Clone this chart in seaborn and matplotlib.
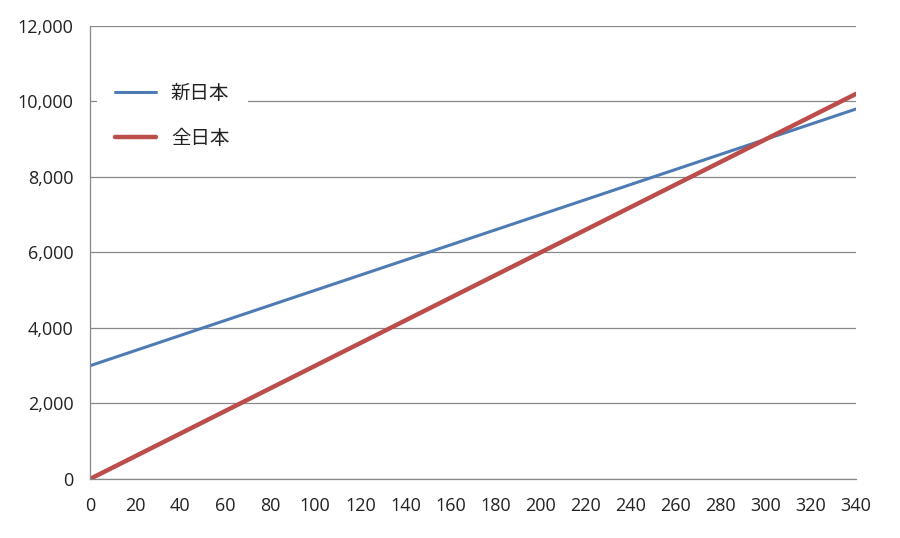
import matplotlib
matplotlib.use("Agg")
import matplotlib.pyplot as plt
import seaborn as sns
import pandas as pd
from matplotlib.ticker import FuncFormatter, MultipleLocator

sns.set_theme(style="white")
plt.rcParams['font.family'] = ['Noto Sans CJK JP', 'DejaVu Sans']

x_vals = [0, 20, 40, 60, 80, 100, 120, 140, 160, 180, 200, 220, 240, 260, 280, 300, 320, 340]
shin_nihon = [3000, 3400, 3800, 4200, 4600, 5000, 5400, 5800, 6200, 6600, 7000, 7400, 7800, 8200, 8600, 9000, 9400, 9800]
zen_nihon = [0, 600, 1200, 1800, 2400, 3000, 3600, 4200, 4800, 5400, 6000, 6600, 7200, 7800, 8400, 9000, 9600, 10200]
series_names = ["新日本", "全日本"]
colors = ["#4f7bb4", "#bb4d4b"]
widths = [2.2, 3.2]

df = pd.DataFrame({"x": x_vals, series_names[0]: shin_nihon, series_names[1]: zen_nihon})
long_df = df.melt(id_vars="x", var_name="series", value_name="y")

fig = plt.figure(figsize=(9, 5.38), dpi=100)
ax = fig.add_axes([0.1, 0.1097, 0.851, 0.842])

for name, c, lw in zip(series_names, colors, widths):
    sns.lineplot(data=long_df[long_df["series"] == name], x="x", y="y",
                 color=c, linewidth=lw, label=name, ax=ax)

ax.set_xlim(0, 340)
ax.set_ylim(0, 12000)
ax.xaxis.set_major_locator(MultipleLocator(20))
ax.yaxis.set_major_locator(MultipleLocator(2000))
ax.yaxis.set_major_formatter(FuncFormatter(lambda v, p: f"{int(v):,}"))
ax.grid(axis="y", color="#888888", linewidth=0.9)
ax.grid(axis="x", visible=False)
ax.set_axisbelow(True)
for s in ["top", "right"]:
    ax.spines[s].set_visible(False)
for s in ["left", "bottom"]:
    ax.spines[s].set_color("#888888")
    ax.spines[s].set_linewidth(0.9)
ax.tick_params(axis="x", which="major", direction="out", length=5, width=0.9,
               color="#888888", labelsize=13, labelcolor="#222222", pad=8)
ax.tick_params(axis="y", which="major", direction="out", length=4, width=0.9,
               color="#888888", labelsize=13, labelcolor="#222222", pad=8)
for lab in ax.get_xticklabels() + ax.get_yticklabels():
    lab.set_family(["Open Sans", "DejaVu Sans"])
ax.set_xlabel("")
ax.set_ylabel("")

leg = ax.legend(loc="upper left", bbox_to_anchor=(0.009, 0.915), frameon=True,
                fontsize=14, handlelength=2.1, handletextpad=0.75,
                labelspacing=1.22, borderpad=0.95, borderaxespad=0.0)
leg.get_frame().set_edgecolor("none")
leg.get_frame().set_facecolor("white")
leg.get_frame().set_alpha(1.0)
for t in leg.get_texts():
    t.set_color("#222222")

fig.savefig("out.png", dpi=100)
